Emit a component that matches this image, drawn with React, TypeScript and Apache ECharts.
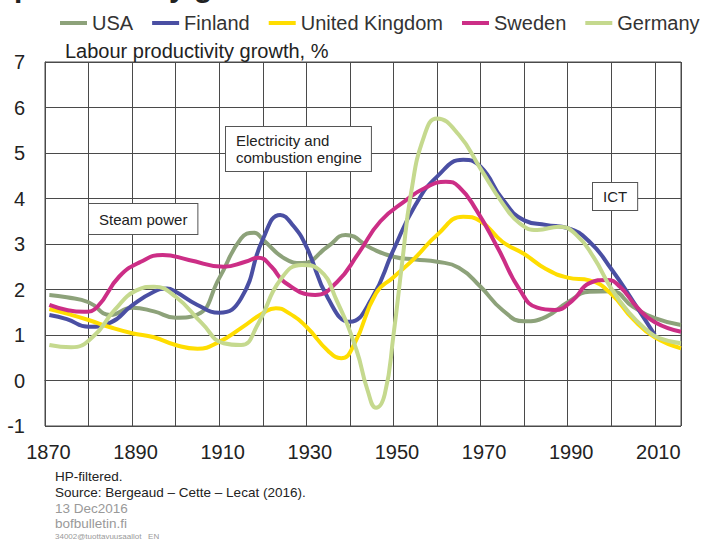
import React, { useEffect, useRef } from "react";
import * as echarts from "echarts";

const seriesNames = ["USA", "Finland", "United Kingdom", "Sweden", "Germany"];
const seriesColors = ["#8DA27A", "#4A4FA3", "#FFDD00", "#CC2E86", "#C5D98E"];

const usa: [number, number][] = [
  [1871, 1.88], [1875, 1.83], [1880, 1.72], [1885, 1.44], [1890, 1.6], [1895, 1.52],
  [1900, 1.38], [1905, 1.45], [1910, 2.25], [1915, 3.12], [1918, 3.25], [1920, 3.1],
  [1925, 2.68], [1929, 2.58], [1935, 2.95], [1939, 3.2], [1945, 2.9], [1950, 2.72],
  [1955, 2.66], [1960, 2.61], [1965, 2.48], [1970, 2.06], [1975, 1.55], [1980, 1.3],
  [1985, 1.4], [1990, 1.72], [1995, 1.95], [2000, 1.96], [2005, 1.62], [2010, 1.37],
  [2016, 1.22],
];

const finland: [number, number][] = [
  [1871, 1.44], [1875, 1.35], [1880, 1.18], [1885, 1.27], [1890, 1.65], [1895, 1.95],
  [1898, 2.02], [1900, 1.95], [1905, 1.66], [1910, 1.49], [1915, 1.8], [1920, 3.1],
  [1924, 3.64], [1927, 3.4], [1930, 2.94], [1935, 1.8], [1940, 1.29], [1945, 1.8],
  [1950, 2.87], [1955, 3.85], [1960, 4.48], [1966, 4.85], [1970, 4.7], [1975, 3.99],
  [1980, 3.52], [1985, 3.42], [1990, 3.35], [1995, 3.05], [2000, 2.45], [2005, 1.74],
  [2010, 1.0],
];

const unitedKingdom: [number, number][] = [
  [1871, 1.57], [1875, 1.47], [1880, 1.33], [1885, 1.17], [1890, 1.04], [1895, 0.95],
  [1900, 0.78], [1905, 0.7], [1910, 0.85], [1915, 1.15], [1920, 1.48], [1923, 1.59],
  [1926, 1.48], [1930, 1.18], [1935, 0.65], [1938, 0.49], [1941, 0.8], [1946, 1.92],
  [1950, 2.27], [1955, 2.7], [1960, 3.2], [1966, 3.6], [1970, 3.5], [1975, 3.05],
  [1980, 2.78], [1985, 2.45], [1990, 2.26], [1995, 2.2], [2000, 1.9], [2005, 1.35],
  [2010, 0.95], [2016, 0.71],
];

const sweden: [number, number][] = [
  [1871, 1.66], [1875, 1.55], [1879, 1.51], [1882, 1.62], [1887, 2.28], [1892, 2.61],
  [1897, 2.76], [1903, 2.65], [1911, 2.5], [1916, 2.61], [1919, 2.7], [1922, 2.5],
  [1925, 2.16], [1932, 1.88], [1937, 2.16], [1942, 2.8], [1947, 3.5], [1953, 3.97],
  [1957, 4.22], [1962, 4.37], [1965, 4.26], [1969, 3.75], [1974, 2.9], [1979, 1.99],
  [1983, 1.6], [1987, 1.55], [1991, 1.75], [1995, 2.14], [1999, 2.21], [2002, 2.06],
  [2006, 1.6], [2010, 1.28], [2016, 1.07],
];

const germany: [number, number][] = [
  [1871, 0.78], [1876, 0.73], [1881, 0.96], [1886, 1.55], [1891, 1.98], [1895, 2.06],
  [1900, 1.84], [1906, 1.26], [1911, 0.82], [1915, 0.78], [1919, 1.26], [1924, 2.21],
  [1929, 2.54], [1933, 2.43], [1937, 1.75], [1941.5, 0.67], [1944, -0.2], [1946, -0.6],
  [1948, -0.3], [1950, 1.0], [1952, 2.6], [1954, 4.1], [1957, 5.36], [1960, 5.76],
  [1965, 5.4], [1970, 4.65], [1975, 3.9], [1979, 3.45], [1983, 3.31], [1988, 3.38],
  [1992, 3.2], [1996, 2.7], [2000, 2.02], [2004, 1.5], [2008, 1.12], [2011, 0.93],
  [2016, 0.82],
];

const seriesData = [usa, finland, unitedKingdom, sweden, germany];

const xMin = 1870;
const xMax = 2016;
const yMin = -1;
const yMax = 7;

const yAxisTitle = "Labour productivity growth, %";
const cutTitle = "productivity growth";
const annotations = ["Steam power", "Electricity and\ncombustion engine", "ICT"];
const footerLines = [
  "HP-filtered.",
  "Source: Bergeaud – Cette – Lecat (2016).",
  "13 Dec2016",
  "bofbulletin.fi",
  "34002@tuottavuusaallot   EN",
];

const FONT = '"Liberation Sans", Arial, Helvetica, sans-serif';
const GRID_COLOR = "#4a4a4a";

export default function App() {
  const ref = useRef<HTMLDivElement>(null);

  useEffect(() => {
    if (!ref.current) return;
    const chart = echarts.init(ref.current, undefined, { renderer: "svg" });

    const boxStyle = {
      font: `15px ${FONT}`,
      fill: "#222",
      backgroundColor: "#fff",
      borderColor: "#555",
      borderWidth: 1,
      lineHeight: 17,
    };

    chart.setOption({
      animation: false,
      backgroundColor: "#fff",
      textStyle: { fontFamily: FONT },
      grid: {
        left: 45,
        right: 23,
        top: 62,
        bottom: 114,
        show: true,
        borderColor: GRID_COLOR,
        borderWidth: 1,
      },
      legend: {
        left: 60,
        top: 13,
        width: 644,
        padding: 0,
        icon: "rect",
        itemWidth: 27,
        itemHeight: 4,
        itemGap: 19,
        data: seriesNames,
        textStyle: { fontSize: 20, color: "#333", fontFamily: FONT },
      },
      xAxis: {
        type: "value",
        min: xMin,
        max: xMax,
        interval: 10,
        axisLine: { show: true, lineStyle: { color: GRID_COLOR, width: 1 } },
        axisTick: { show: false },
        splitLine: { show: true, lineStyle: { color: GRID_COLOR, width: 1, type: "solid" } },
        axisLabel: {
          margin: 16,
          fontSize: 20,
          color: "#222",
          fontFamily: FONT,
          padding: [0, 0, 0, 7],
          formatter: (v: number) => ((v - xMin) % 20 === 0 ? String(v) : ""),
        },
      },
      yAxis: {
        type: "value",
        min: yMin,
        max: yMax,
        interval: 1,
        axisLine: { show: true, lineStyle: { color: GRID_COLOR, width: 1 } },
        axisTick: { show: false },
        splitLine: { show: true, lineStyle: { color: GRID_COLOR, width: 1, type: "solid" } },
        axisLabel: { margin: 20, fontSize: 20, color: "#222", fontFamily: FONT },
      },
      series: seriesNames.map((name, i) => ({
        name,
        type: "line",
        data: seriesData[i],
        smooth: 0.5,
        symbol: "none",
        lineStyle: { color: seriesColors[i], width: 4 },
        itemStyle: { color: seriesColors[i] },
        z: 2 + i,
      })),
      graphic: [
        {
          type: "text",
          left: 14,
          top: -29,
          style: { text: cutTitle, font: `bold 30px ${FONT}`, fill: "#222" },
        },
        {
          type: "text",
          left: 65,
          top: 41,
          style: { text: yAxisTitle, font: `20px ${FONT}`, fill: "#222" },
        },
        {
          type: "text",
          left: 88,
          top: 203,
          z: 20,
          style: { ...boxStyle, text: annotations[0], padding: [7, 10, 6, 10] },
        },
        {
          type: "text",
          left: 225,
          top: 126,
          z: 20,
          style: { ...boxStyle, text: annotations[1], padding: [5, 9, 5, 10] },
        },
        {
          type: "text",
          left: 592,
          top: 182,
          z: 20,
          style: { ...boxStyle, text: annotations[2], padding: [5, 10, 5, 10] },
        },
        {
          type: "text",
          left: 55,
          top: 469,
          style: { text: footerLines[0], font: `13.5px ${FONT}`, fill: "#222" },
        },
        {
          type: "text",
          left: 55,
          top: 485,
          style: { text: footerLines[1], font: `13.5px ${FONT}`, fill: "#222" },
        },
        {
          type: "text",
          left: 55,
          top: 501,
          style: { text: footerLines[2], font: `13.5px ${FONT}`, fill: "#999" },
        },
        {
          type: "text",
          left: 55,
          top: 516,
          style: { text: footerLines[3], font: `13.5px ${FONT}`, fill: "#999" },
        },
        {
          type: "text",
          left: 55,
          top: 532,
          style: { text: footerLines[4], font: `8px ${FONT}`, fill: "#999" },
        },
      ],
    });

    return () => chart.dispose();
  }, []);

  return (
    <div
      ref={ref}
      style={{ position: "fixed", left: 0, top: 0, width: 704, height: 540, background: "#fff" }}
    />
  );
}
